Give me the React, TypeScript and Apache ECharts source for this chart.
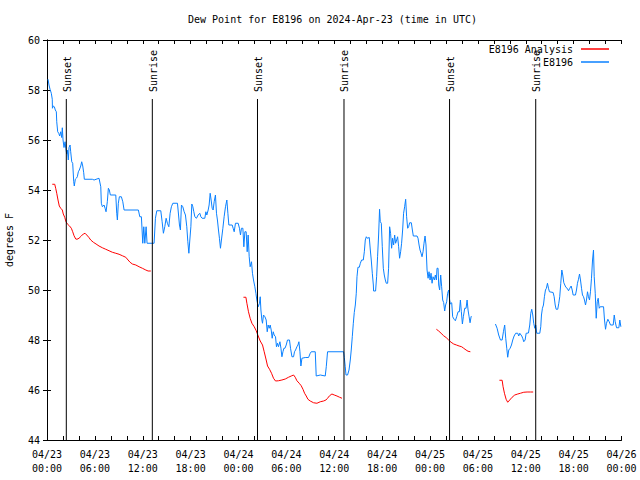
import React, { useEffect, useRef } from "react";
import * as echarts from "echarts";

// hours since 2024-04-23 00:00 UTC, dew point in degrees F
const e8196Points: [number, number | null][] = [
  [0.13, 58.43], [0.25, 58.2], [0.38, 58.03], [0.54, 57.87], [0.66, 57.63], [0.68, 57.27], [0.79, 57.36], [0.92, 57.33],
  [1.04, 57.2], [1.17, 57.13], [1.22, 56.73], [1.34, 56.33], [1.47, 56.27], [1.59, 56.16], [1.72, 56.33], [1.84, 56.1],
  [1.92, 56.49], [2.01, 56.0], [2.13, 55.7], [2.26, 55.93], [2.35, 55.67], [2.47, 55.44], [2.55, 55.6], [2.67, 55.2],
  [2.76, 55.7], [2.89, 55.8], [2.97, 55.53], [3.1, 55.13], [3.22, 55.07], [3.35, 54.33], [3.42, 54.16], [3.55, 54.43],
  [3.68, 54.47], [3.8, 54.53], [3.93, 54.73], [4.05, 54.8], [4.23, 54.96], [4.35, 55.13], [4.48, 54.96], [4.6, 54.69],
  [4.68, 54.43], [5.68, 54.43], [5.9, 54.4], [6.52, 54.47], [6.74, 54.13], [6.81, 53.47], [6.94, 53.33], [7.15, 53.4],
  [7.28, 53.27], [7.4, 53.13], [7.56, 53.53], [7.69, 54.07], [7.81, 54.0], [7.94, 53.8], [8.62, 53.8], [8.74, 53.07],
  [8.82, 52.8], [8.94, 53.47], [9.07, 53.73], [9.32, 53.73], [9.5, 53.53], [9.66, 53.2], [11.45, 53.2], [11.63, 52.93],
  [11.83, 52.93], [12.0, 51.87], [12.13, 52.53], [12.26, 51.87], [12.42, 52.53], [12.54, 51.87], [13.26, 51.87], [13.42, 51.87],
  [13.59, 52.87], [13.76, 53.17], [14.26, 53.17], [14.43, 52.73], [14.59, 52.27], [14.76, 52.53], [14.93, 52.87], [15.09, 52.67],
  [15.27, 52.53], [15.43, 53.07], [15.59, 53.33], [15.77, 53.47], [16.35, 53.47], [16.43, 53.2], [16.6, 52.6], [16.72, 52.4],
  [16.85, 53.4], [17.02, 53.33], [17.19, 53.13], [17.35, 53.0], [17.52, 52.53], [17.65, 51.93], [17.78, 51.47], [17.9, 52.0],
  [18.03, 52.53], [18.15, 53.44], [18.28, 53.33], [18.4, 53.13], [18.53, 52.93], [18.73, 52.87], [18.94, 53.0], [19.15, 53.07],
  [19.28, 52.93], [19.44, 52.87], [19.78, 52.87], [19.91, 53.13], [20.03, 53.0], [20.2, 53.2], [20.32, 53.4], [20.45, 53.87],
  [20.57, 53.6], [20.7, 53.27], [20.82, 53.2], [20.95, 53.53], [21.11, 53.8], [21.24, 53.07], [21.36, 52.8], [21.49, 52.4],
  [21.61, 52.07], [21.74, 51.67], [21.86, 52.0], [22.04, 52.47], [22.2, 52.93], [22.37, 53.33], [22.54, 53.6], [22.67, 53.07],
  [22.79, 52.6], [23.21, 52.6], [23.33, 52.47], [23.46, 52.33], [23.62, 52.67], [23.96, 52.67], [24.12, 52.47], [24.25, 52.2],
  [24.37, 52.47], [24.55, 52.47], [24.67, 51.73], [24.8, 52.33], [24.96, 52.33], [25.09, 51.53], [25.21, 52.2], [25.34, 51.33],
  [25.46, 50.93], [25.63, 51.13], [25.75, 50.67], [25.88, 50.4], [26.05, 50.13], [26.18, 49.87], [26.3, 49.6], [26.47, 49.33],
  [26.63, 49.47], [26.72, 49.73], [26.81, 49.2], [26.93, 48.8], [27.01, 48.67], [27.13, 49.0], [27.31, 48.93], [27.47, 48.8],
  [27.6, 48.33], [27.72, 48.6], [27.85, 48.47], [27.97, 48.6], [28.1, 48.4], [28.22, 48.07], [28.35, 48.33], [28.47, 48.2],
  [28.64, 48.13], [28.76, 47.73], [28.89, 47.87], [29.01, 47.73], [29.19, 47.93], [29.32, 47.67], [29.44, 47.33], [29.57, 47.53],
  [29.69, 47.67], [29.82, 47.67], [29.98, 47.8], [30.14, 48.0], [30.39, 48.0], [30.52, 47.67], [30.7, 47.33], [30.9, 47.33],
  [31.02, 47.53], [31.15, 47.6], [31.32, 47.73], [31.45, 47.8], [31.57, 47.93], [31.7, 47.53], [31.82, 46.96], [31.95, 47.27],
  [32.36, 47.3], [32.78, 47.3], [32.99, 47.47], [33.12, 47.53], [33.62, 47.53], [33.74, 46.56], [34.25, 46.6], [34.87, 46.56],
  [35.0, 46.93], [35.16, 47.53], [37.17, 47.53], [37.26, 47.3], [37.38, 46.93], [37.47, 46.6], [37.67, 46.6], [37.85, 46.8],
  [38.01, 47.2], [38.13, 47.6], [38.26, 48.13], [38.39, 48.67], [38.51, 49.1], [38.64, 49.4], [38.76, 49.87], [38.85, 50.53],
  [38.97, 50.91], [39.14, 50.91], [39.27, 51.07], [39.43, 51.2], [39.64, 51.2], [39.77, 51.53], [39.89, 52.0], [40.02, 52.13],
  [40.14, 52.07], [40.39, 52.1], [40.52, 51.6], [40.64, 51.2], [40.77, 50.67], [40.9, 50.2], [40.93, 49.96], [41.18, 49.96],
  [41.31, 50.53], [41.43, 51.33], [41.56, 52.2], [41.68, 53.23], [41.77, 52.73], [41.9, 52.67], [42.02, 51.73], [42.15, 50.87],
  [42.27, 50.6], [42.4, 50.4], [42.52, 50.27], [42.69, 50.27], [42.81, 50.87], [42.94, 52.53], [43.06, 52.27], [43.19, 51.67],
  [43.31, 52.07], [43.44, 51.8], [43.57, 52.2], [43.69, 51.87], [43.82, 52.0], [43.94, 52.13], [44.07, 51.73], [44.19, 51.27],
  [44.32, 51.53], [44.44, 51.87], [44.57, 52.4], [44.69, 53.07], [44.82, 53.33], [44.95, 53.63], [45.07, 52.93], [45.2, 52.47],
  [45.32, 52.53], [45.45, 52.69], [45.66, 52.69], [45.79, 52.4], [45.91, 52.16], [46.38, 52.16], [46.5, 52.07], [46.63, 51.8],
  [46.75, 51.6], [46.88, 51.47], [47.0, 51.33], [47.13, 51.53], [47.25, 51.87], [47.38, 52.16], [47.5, 51.8], [47.63, 50.8],
  [47.76, 50.47], [47.88, 50.73], [48.01, 50.4], [48.13, 50.67], [48.26, 50.27], [48.38, 50.53], [48.55, 50.4], [48.67, 50.6],
  [48.8, 50.4], [48.88, 50.87], [49.01, 50.87], [49.09, 50.2], [49.21, 50.0], [49.34, 50.6], [49.46, 50.13], [49.59, 49.6],
  [49.71, 49.5], [49.84, 49.16], [49.96, 49.4], [50.09, 49.53], [50.21, 49.87], [50.34, 50.0], [50.46, 49.6], [50.55, 49.44],
  [50.72, 49.49], [50.84, 48.93], [51.02, 48.83], [51.18, 48.77], [51.34, 48.93], [51.52, 49.13], [51.68, 49.13], [51.81, 49.6],
  [51.93, 49.13], [52.06, 48.64], [52.18, 48.93], [52.35, 49.27], [52.52, 49.27], [52.65, 49.6], [52.77, 49.2], [52.9, 48.93],
  [53.02, 48.69], [53.15, 48.93], [53.22, 48.96],
  [54.7, null],
  [56.2, 48.64], [56.41, 48.47], [56.61, 48.2], [56.83, 48.0], [57.04, 48.0], [57.2, 48.33], [57.36, 48.6], [57.49, 48.07],
  [57.62, 47.67], [57.74, 47.31], [57.87, 47.6], [58.04, 47.67], [58.21, 47.8], [58.37, 48.0], [58.54, 48.16], [58.74, 48.27],
  [59.0, 48.27], [59.12, 48.16], [59.25, 48.27], [59.5, 48.16], [59.62, 48.07], [59.75, 47.93], [59.92, 48.0], [60.05, 48.27],
  [60.34, 48.28], [60.5, 48.6], [60.63, 49.07], [60.75, 49.23], [60.88, 49.0], [61.0, 48.67], [61.13, 48.47], [61.25, 48.6],
  [61.38, 48.27], [61.76, 48.27], [61.88, 48.53], [61.97, 49.0], [62.09, 49.27], [62.22, 49.4], [62.34, 49.73], [62.47, 50.0],
  [62.59, 50.07], [62.72, 50.27], [62.85, 50.07], [62.97, 49.93], [63.43, 49.9], [63.56, 49.73], [63.69, 49.4], [63.81, 49.23],
  [64.01, 49.23], [64.14, 49.47], [64.26, 49.73], [64.39, 50.27], [64.52, 50.8], [64.64, 50.6], [64.77, 50.29], [65.02, 50.11],
  [65.19, 50.07], [65.36, 49.97], [65.52, 50.07], [65.69, 50.16], [65.82, 50.0], [65.94, 49.8], [66.23, 49.8], [66.36, 50.0],
  [66.48, 50.27], [66.61, 50.43], [66.74, 50.64], [66.86, 50.4], [66.99, 50.07], [67.11, 49.8], [67.24, 49.73], [67.36, 49.6],
  [67.49, 49.4], [67.61, 49.6], [67.74, 49.93], [67.86, 49.73], [67.99, 49.6], [68.11, 49.93], [68.24, 50.47], [68.37, 51.2],
  [68.49, 51.6], [68.58, 50.53], [68.71, 49.87], [68.83, 48.87], [68.96, 49.53], [69.08, 49.67], [69.21, 49.27], [69.33, 49.33],
  [69.75, 49.33], [69.87, 48.8], [70.0, 48.43], [70.12, 48.67], [70.29, 48.83], [70.46, 48.73], [70.62, 48.6], [70.96, 48.6],
  [71.09, 49.0], [71.21, 48.73], [71.38, 48.49], [71.67, 48.49], [71.79, 48.8], [71.92, 48.53],
];

const analysisPoints: [number, number | null][] = [
  [0.66, 54.23], [0.97, 54.23], [1.09, 54.07], [1.22, 53.87], [1.38, 53.6], [1.54, 53.36], [1.72, 53.27], [1.92, 53.2],
  [2.04, 53.04], [2.22, 52.91], [2.38, 52.73], [2.55, 52.64], [2.8, 52.57], [3.05, 52.47], [3.22, 52.33], [3.39, 52.17],
  [3.6, 52.04], [3.76, 52.03], [4.01, 52.07], [4.3, 52.16], [4.55, 52.24], [4.77, 52.27], [4.98, 52.2], [5.23, 52.11],
  [5.48, 52.0], [5.81, 51.91], [6.15, 51.84], [6.52, 51.76], [6.94, 51.69], [7.36, 51.63], [7.78, 51.57], [8.19, 51.51],
  [8.62, 51.47], [9.03, 51.43], [9.45, 51.37], [9.87, 51.31], [10.16, 51.2], [10.41, 51.11], [10.7, 51.04], [11.13, 51.0],
  [11.54, 50.93], [11.95, 50.87], [12.38, 50.8], [12.67, 50.76], [13.01, 50.76],
  [18.0, null],
  [24.62, 49.71], [24.93, 49.71], [25.05, 49.47], [25.25, 49.13], [25.46, 48.87], [25.68, 48.67], [25.97, 48.53], [26.22, 48.37],
  [26.47, 48.16], [26.72, 47.96], [27.01, 47.8], [27.22, 47.53], [27.47, 47.2], [27.64, 46.96], [27.89, 46.83], [28.14, 46.67],
  [28.39, 46.47], [28.64, 46.36], [29.01, 46.37], [29.44, 46.4], [29.86, 46.44], [30.27, 46.51], [30.61, 46.56], [30.9, 46.6],
  [31.11, 46.51], [31.32, 46.37], [31.61, 46.27], [31.86, 46.17], [32.08, 46.03], [32.28, 45.87], [32.49, 45.76], [32.7, 45.63],
  [32.99, 45.56], [33.41, 45.49], [33.83, 45.47], [34.25, 45.53], [34.66, 45.56], [34.96, 45.6], [35.16, 45.67], [35.41, 45.77],
  [35.71, 45.84], [36.0, 45.8], [36.34, 45.76], [36.67, 45.71], [36.97, 45.67],
  [42.0, null],
  [48.8, 48.43], [49.09, 48.36], [49.39, 48.27], [49.71, 48.17], [50.05, 48.09], [50.34, 48.0], [50.64, 47.91], [50.97, 47.84],
  [51.31, 47.8], [51.65, 47.76], [51.97, 47.73], [52.22, 47.67], [52.52, 47.6], [52.77, 47.55], [53.06, 47.53],
  [55.0, null],
  [56.7, 46.39], [57.04, 46.39], [57.16, 46.13], [57.33, 45.87], [57.54, 45.63], [57.74, 45.51], [57.99, 45.6], [58.29, 45.71],
  [58.62, 45.8], [59.0, 45.84], [59.33, 45.87], [59.75, 45.91], [60.17, 45.92], [60.59, 45.92], [60.93, 45.92],
];

const sunHours = [2.42, 13.2, 26.38, 37.22, 50.45, 61.25];
const sunLabels = ["Sunset", "Sunrise", "Sunset", "Sunrise", "Sunset", "Sunrise"];

const xTickLabels = [
  "04/23\n00:00", "04/23\n06:00", "04/23\n12:00", "04/23\n18:00",
  "04/24\n00:00", "04/24\n06:00", "04/24\n12:00", "04/24\n18:00",
  "04/25\n00:00", "04/25\n06:00", "04/25\n12:00", "04/25\n18:00",
  "04/26\n00:00",
];

const FONT = '"DejaVu Sans Mono", "Liberation Mono", monospace';

const toSeries = (pts: [number, number | null][]) =>
  pts.map(([h, v]) => (v === null ? [h, "-"] : [h, v]));

export default function App() {
  const ref = useRef<HTMLDivElement>(null);
  useEffect(() => {
    if (!ref.current) return;
    const chart = echarts.init(ref.current, null, { renderer: "svg" });
    const axisLine = { show: true, lineStyle: { color: "#000", width: 1 } };
    const tick = { show: true, inside: true, length: 4, lineStyle: { color: "#000" } };
    const legendCommon = {
      right: 31,
      padding: 0,
      align: "right",
      icon: "rect",
      itemWidth: 28,
      itemHeight: 1.5,
      textStyle: { fontFamily: FONT, fontSize: 10, color: "#000", padding: [0, 3, 0, 0] },
      selectedMode: false,
    };
    chart.setOption({
      animation: false,
      backgroundColor: "#fff",
      title: {
        text: "Dew Point for E8196 on 2024-Apr-23 (time in UTC)",
        left: 188,
        top: 14,
        padding: 0,
        textStyle: { fontFamily: FONT, fontSize: 10, fontWeight: "normal", color: "#000" },
      },
      legend: [
        { ...legendCommon, data: ["E8196 Analysis"], top: 44 },
        { ...legendCommon, data: ["E8196"], top: 57 },
      ],
      grid: { left: 47, right: 18.5, top: 40, bottom: 40, show: false, outerBoundsMode: "none", containLabel: false },
      xAxis: [
        {
          type: "value",
          min: 0,
          max: 72,
          interval: 2,
          position: "bottom",
          axisLine,
          axisTick: tick,
          splitLine: { show: false },
          axisLabel: {
            fontFamily: FONT,
            fontSize: 10,
            color: "#000",
            lineHeight: 14,
            margin: 7,
            showMinLabel: true,
            showMaxLabel: true,
            hideOverlap: false,
            formatter: (v: number) => (v % 6 === 0 ? xTickLabels[v / 6] : ""),
          },
        },
        {
          type: "value",
          min: 0,
          max: 72,
          interval: 2,
          position: "top",
          axisLine,
          axisTick: tick,
          splitLine: { show: false },
          axisLabel: { show: false },
        },
      ],
      yAxis: [
        {
          type: "value",
          min: 44,
          max: 60,
          interval: 2,
          position: "left",
          name: "degrees F",
          nameLocation: "middle",
          nameRotate: 90,
          nameGap: 33,
          nameTextStyle: { fontFamily: FONT, fontSize: 10, color: "#000" },
          axisLine,
          axisTick: tick,
          splitLine: { show: false },
          axisLabel: { fontFamily: FONT, fontSize: 10, color: "#000", margin: 7 },
        },
        {
          type: "value",
          min: 44,
          max: 60,
          interval: 2,
          position: "right",
          axisLine,
          axisTick: tick,
          splitLine: { show: false },
          axisLabel: { show: false },
        },
      ],
      series: [
        {
          name: "E8196 Analysis",
          type: "line",
          data: toSeries(analysisPoints),
          symbol: "none",
          color: "#ff0000",
          lineStyle: { color: "#ff0000", width: 1 },
          connectNulls: false,
          z: 3,
        },
        {
          name: "E8196",
          type: "line",
          data: toSeries(e8196Points),
          symbol: "none",
          color: "#0a80ff",
          lineStyle: { color: "#0a80ff", width: 1 },
          connectNulls: false,
          z: 3,
        },
        {
          name: "sun",
          type: "custom",
          silent: true,
          z: 4,
          data: sunHours.map((h) => [h, 44]),
          encode: { x: 0, y: 1 },
          renderItem: (params: any, api: any) => {
            const h = api.value(0);
            const bottom = api.coord([h, 44]);
            const topY = api.coord([h, 60])[1];
            return {
              type: "group",
              children: [
                {
                  type: "line",
                  shape: { x1: bottom[0], y1: topY + 59, x2: bottom[0], y2: bottom[1] },
                  style: { stroke: "#000", lineWidth: 1 },
                },
                {
                  type: "text",
                  x: bottom[0] + 1,
                  y: topY + 52,
                  rotation: Math.PI / 2,
                  style: {
                    text: sunLabels[params.dataIndex],
                    fill: "#000",
                    font: `10px ${FONT}`,
                    align: "left",
                    verticalAlign: "middle",
                  },
                },
              ],
            };
          },
        },
      ],
    });
    return () => chart.dispose();
  }, []);
  return (
    <div
      ref={ref}
      style={{ position: "fixed", left: 0, top: 0, width: 640, height: 480, background: "#fff" }}
    />
  );
}
